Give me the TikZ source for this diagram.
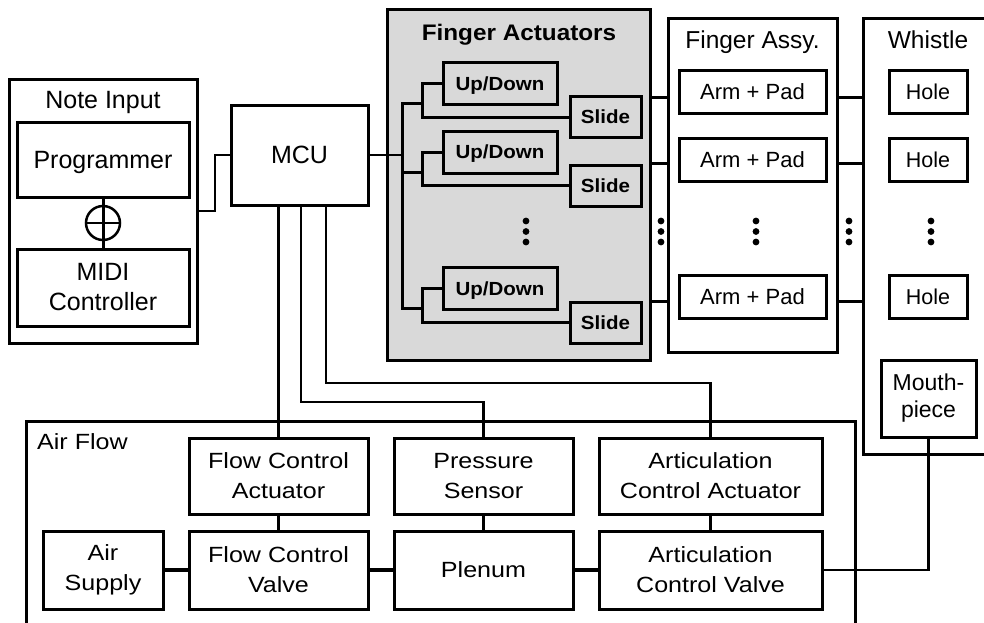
\documentclass[tikz,border=0pt]{standalone}
\usepackage{fontspec}
\setmainfont{Liberation Sans}
\newfontfamily\widefont[FakeStretch=1.14]{Liberation Sans}
\newfontfamily\boldwide[FakeStretch=1.08]{Liberation Sans}
\definecolor{fagray}{HTML}{D9D9D9}
\tikzset{
  box/.style={draw, line width=3pt, inner sep=0pt, align=center, font=\fontsize{25}{30}\selectfont},
  abox/.style={box, font=\widefont\fontsize{22}{30}\selectfont},
  gbox/.style={box, fill=fagray, font=\boldwide\bfseries\fontsize{19}{22}\selectfont},
  lbl/.style={inner sep=0pt, text depth=0pt, font=\fontsize{25}{30}\selectfont},
  wire/.style={line width=3pt},
  mwire/.style={line width=2.5pt},
  pipe/.style={line width=4pt}
}
\begin{document}
\begin{tikzpicture}[x=1pt,y=-1pt]
\useasboundingbox (0,0) rectangle (984,622);
\clip (0,0) rectangle (984,622);
\fill[white] (0,0) rectangle (984,622);

% Note input group
\node[box, minimum width=188pt, minimum height=264pt] (ni) at (103,211) {};
\node[lbl] (nit) at (103,100) {Note Input};
\node[box, text depth=0pt, minimum width=172pt, minimum height=75pt] (prog) at (103,159.5) {Programmer};
\node[box, minimum width=172pt, minimum height=77pt] (midi) at (103,287.5) {MIDI\\Controller};
\node[draw, circle, line width=2.5pt, minimum size=34pt, inner sep=0pt] (plus) at (103,223) {};

% MCU
\node[box, minimum width=137pt, minimum height=100pt] (mcu) at (299.5,155) {MCU};

% Finger actuators
\node[box, fill=fagray, minimum width=263pt, minimum height=351pt] (fa) at (518.5,184.5) {};
\node[inner sep=0pt, text depth=0pt, font=\boldwide\bfseries\fontsize{22.5}{26}\selectfont] (fat) at (519,32) {Finger Actuators};
\node[gbox, text depth=0pt, minimum width=114pt, minimum height=42pt] (ud1) at (500,83.5) {Up/Down};
\node[gbox, text depth=0pt, minimum width=114pt, minimum height=42pt] (ud2) at (500,152) {Up/Down};
\node[gbox, text depth=0pt, minimum width=114pt, minimum height=42pt] (ud3) at (500,288.5) {Up/Down};
\node[gbox, minimum width=71pt, minimum height=41pt] (sl1) at (605.5,117) {Slide};
\node[gbox, minimum width=71pt, minimum height=41pt] (sl2) at (605.5,185.5) {Slide};
\node[gbox, minimum width=71pt, minimum height=41pt] (sl3) at (605.5,322.5) {Slide};

% Finger assy
\node[box, minimum width=169pt, minimum height=334pt] (fas) at (752.5,185) {};
\node[lbl, font=\fontsize{24.5}{30}\selectfont] (fast) at (752.5,40) {Finger Assy.};
\node[box, font=\fontsize{22}{26}\selectfont, minimum width=147pt, minimum height=43pt] (ap1) at (752.5,91.5) {Arm + Pad};
\node[box, font=\fontsize{22}{26}\selectfont, minimum width=147pt, minimum height=43pt] (ap2) at (752.5,160) {Arm + Pad};
\node[box, font=\fontsize{22}{26}\selectfont, minimum width=147pt, minimum height=43pt] (ap3) at (752.5,296.5) {Arm + Pad};

% Whistle
\node[box, minimum width=147pt, minimum height=436pt] (wh) at (936.5,236) {};
\node[lbl, font=\fontsize{24.5}{30}\selectfont] (wht) at (928,40) {Whistle};
\node[box, font=\fontsize{21.5}{26}\selectfont, minimum width=78pt, minimum height=43pt] (h1) at (928,91.5) {Hole};
\node[box, font=\fontsize{21.5}{26}\selectfont, minimum width=78pt, minimum height=43pt] (h2) at (928,160) {Hole};
\node[box, font=\fontsize{21.5}{26}\selectfont, minimum width=78pt, minimum height=43pt] (h3) at (928,296.5) {Hole};
\node[box, font=\fontsize{23}{27}\selectfont, minimum width=95pt, minimum height=77pt] (mp) at (928.5,398.5) {Mouth-\\piece};

% Air flow
\node[box, minimum width=829pt, minimum height=229pt] (af) at (440.5,535.5) {};
\node[inner sep=0pt, anchor=west, font=\widefont\fontsize{22}{26}\selectfont] (aft) at (37,442) {Air Flow};
\node[abox, minimum width=179pt, minimum height=76pt] (fca) at (278.5,476) {Flow Control\\Actuator};
\node[abox, minimum width=179pt, minimum height=76pt] (ps) at (483.5,476) {Pressure\\Sensor};
\node[abox, minimum width=223pt, minimum height=76pt] (aca) at (710.5,476) {Articulation\\Control Actuator};
\node[abox, minimum width=120pt, minimum height=78pt] (as) at (103,570) {Air\\Supply};
\node[abox, minimum width=179pt, minimum height=78pt] (fcv) at (278.5,570) {Flow Control\\Valve};
\node[abox, minimum width=179pt, minimum height=78pt] (pl) at (483.5,570) {Plenum};
\node[abox, minimum width=223pt, minimum height=78pt] (acv) at (710.5,570) {Articulation\\Control Valve};

% Connectors
\coordinate (tr) at (402,0);
\coordinate (br) at (422,0);
\draw[mwire] (ni.east) -- (215,211) |- (mcu.west);
\draw[wire] (prog.south) -- (midi.north);
\draw[line width=2.5pt] (plus.west) -- (plus.east);
\draw[mwire] (mcu.east) -- (tr |- mcu.east);
\draw[wire] (br |- 0,103) -| (tr |- 0,308) -- (br |- 0,308);
\draw[wire] (tr |- 0,172) -- (br |- 0,172);
\draw[wire] (ud1.west) -| (br |- sl1.west) -- (sl1.west);
\draw[wire] (ud2.west) -| (br |- sl2.west) -- (sl2.west);
\draw[wire] (ud3.west) -| (br |- sl3.west) -- (sl3.west);
\foreach \yy in {97,163,301} {
  \draw[wire] (fa.east |- 0,\yy) -- (fas.west |- 0,\yy);
  \draw[wire] (fas.east |- 0,\yy) -- (wh.west |- 0,\yy);
}
\draw[mwire] (fca.north) -- (fca.north |- mcu.south);
\draw[mwire] (mcu.south -| 301,0) -- (301,402) -| (ps.north);
\draw[mwire] (mcu.south -| 326,0) -- (326,383) -| (aca.north);
\draw[wire] (fca.south) -- (fcv.north);
\draw[wire] (ps.south) -- (pl.north);
\draw[wire] (aca.south) -- (acv.north);
\draw[pipe] (as.east) -- (fcv.west);
\draw[pipe] (fcv.east) -- (pl.west);
\draw[pipe] (pl.east) -- (acv.west);
\draw[mwire] (acv.east) -- (mp.south |- acv.east) -- (mp.south);

% Ellipsis dots
\foreach \xx in {526,661,756,849,931} {
  \foreach \yy in {221,231.5,242} {
    \fill (\xx,\yy) circle[radius=3.4pt];
  }
}
\end{tikzpicture}
\end{document}
